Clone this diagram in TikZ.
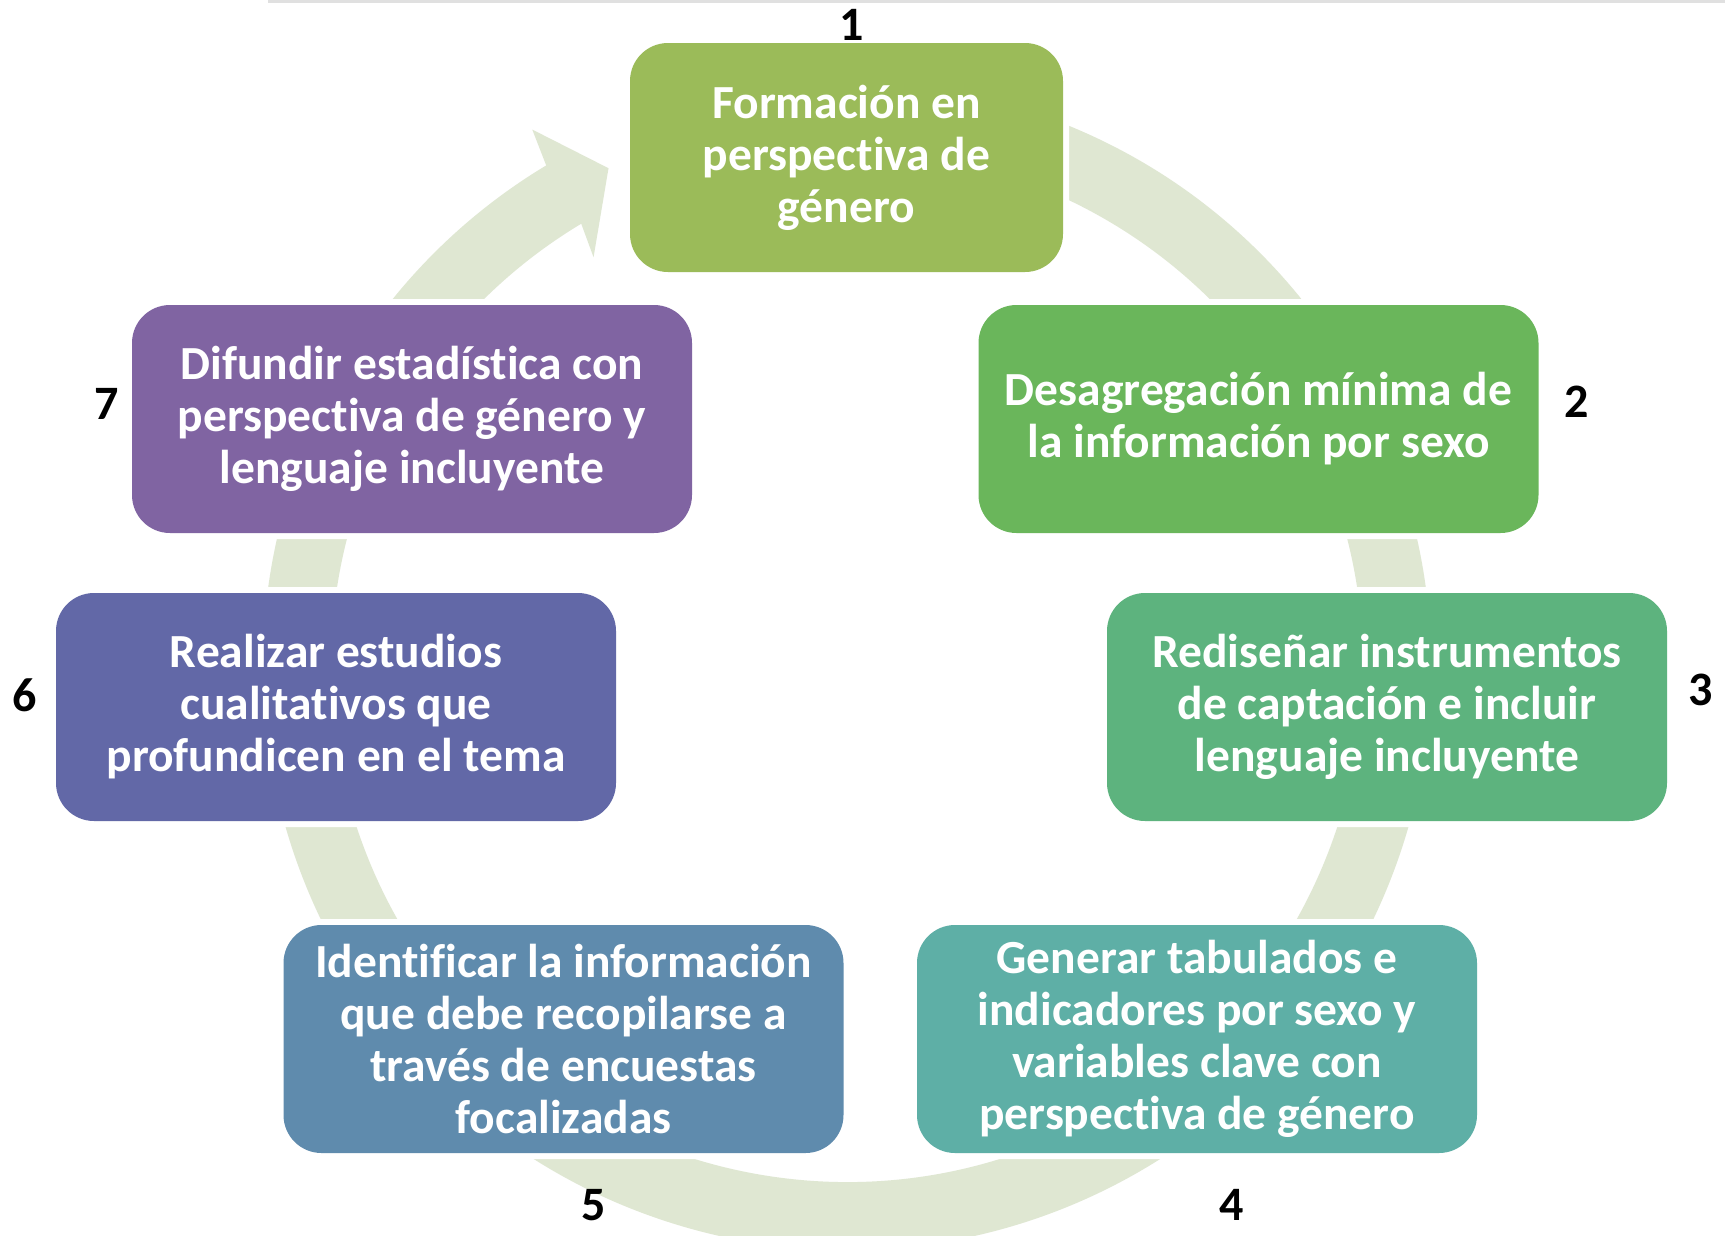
\documentclass[tikz,border=0pt]{standalone}
\usepackage{fontspec}
\setmainfont{Carlito}[RawFeature={-liga;-clig;-dlig;-calt}]
\usetikzlibrary{calc}
\definecolor{cA}{HTML}{9BBB59}
\definecolor{cB}{HTML}{6AB65B}
\definecolor{cC}{HTML}{5DB37E}
\definecolor{cD}{HTML}{5EAFA6}
\definecolor{cE}{HTML}{5F8BAD}
\definecolor{cF}{HTML}{6268A7}
\definecolor{cG}{HTML}{8064A2}
\definecolor{ringc}{HTML}{DFE7D2}
\begin{document}
\begin{tikzpicture}[x=1pt,y=1pt,
  box/.style={rounded corners=38pt, minimum width=560pt, minimum height=228pt,
    inner sep=0pt, align=center, text=white,
    font=\fontsize{47.5}{52}\selectfont\bfseries,
    preaction={draw=white, line width=12pt}},
  num/.style={font=\fontsize{48}{52}\selectfont\bfseries, inner sep=0pt, text=black}]
\useasboundingbox (0,0) rectangle (1725,-1235);
\clip (0,0) rectangle (1725,-1235);
\fill[white] (0,0) rectangle (1725,-1235);
\draw[black!12, line width=3pt] (268,-1) -- (1725,-1);
\coordinate (C) at (847,-666);
% circular arrow
\fill[ringc] ($(C)+(70:584)$) arc[start angle=70, end angle=-239, radius=584]
  -- ($(C)+(120.4:622)$) -- ($(C)+(115.6:552)$) -- ($(C)+(121.8:481)$)
  -- ($(C)+(-239:516)$) arc[start angle=-239, end angle=70, radius=516] -- cycle;
% boxes
\node[box, fill=cA, minimum width=433pt, minimum height=229pt] (b1) at (846.5,-157.5)
  {Formación en\\perspectiva de\\género};
\node[box, fill=cB] (b2) at (1258.5,-419) {Desagregación mínima de\\la información por sexo};
\node[box, fill=cC] (b3) at (1387,-707) {Rediseñar instrumentos\\de captación e incluir\\lenguaje incluyente};
\node[box, fill=cD] (b4) at (1197,-1039) {Generar tabulados e\\indicadores por sexo y\\variables clave con\\perspectiva de género};
\node[box, fill=cE] (b5) at (563.5,-1039) {Identificar la información\\que debe recopilarse a\\través de encuestas\\focalizadas};
\node[box, fill=cF] (b6) at (336,-707) {Realizar estudios\\cualitativos que\\profundicen en el tema};
\node[box, fill=cG] (b7) at (412,-419) {Difundir estadística con\\perspectiva de género y\\lenguaje incluyente};
% numbers
\node[num] (n1) at (852,-25) {1};
\node[num] (n2) at (1577,-402) {2};
\node[num] (n3) at (1701,-690) {3};
\node[num] (n4) at (1232,-1205) {4};
\node[num] (n5) at (594,-1205) {5};
\node[num] (n6) at (25,-695) {6};
\node[num] (n7) at (107,-404) {7};
\end{tikzpicture}
\end{document}
